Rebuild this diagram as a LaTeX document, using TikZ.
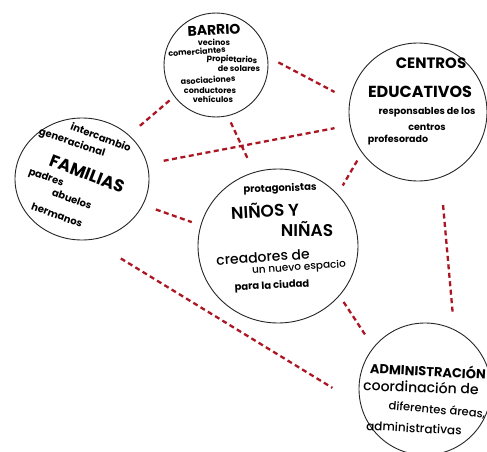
\documentclass[tikz,border=0pt]{standalone}
\usepackage{fontspec}
\setmainfont{Poppins}
\newfontfamily\medfont{Poppins Medium}
\newfontfamily\semifont{Poppins SemiBold}
\usetikzlibrary{shapes.geometric}
\definecolor{linkred}{RGB}{172,22,34}
\newcommand\myfs[1]{\fontsize{#1}{#1}\selectfont}
\begin{document}
\begin{tikzpicture}[x=1pt,y=-1pt,
  ring/.style={draw=black!85, line width=0.9pt, circle, inner sep=0pt},
  oval/.style={draw=black!85, line width=0.9pt, ellipse, inner sep=0pt},
  link/.style={draw=linkred, line width=2.3pt, dash pattern=on 5pt off 3.5pt},
  lbl/.style={inner sep=0pt, text=black},
  small/.style={lbl, font=\myfs{8}\bfseries},
  mid/.style={lbl, font=\myfs{10}\bfseries},
  big/.style={lbl, font=\myfs{15}\bfseries}]
\useasboundingbox (0,0) rectangle (487,452);
\fill[white] (0,0) rectangle (487,452);
% circles
\node[ring, minimum size=104pt] (bar) at (216,65) {};
\node[ring, minimum size=138pt] (cen) at (418,112) {};
\node[oval, minimum width=134pt, minimum height=122pt] (fam) at (82,179) {};
\node[oval, minimum width=160pt, minimum height=154pt] (nin) at (278,246) {};
\node[ring, minimum size=132pt] (adm) at (425,389) {};
% connectors
\draw[link, shorten <=12pt, shorten >=17pt] (bar.9.5) -- (cen.170);
\draw[link, shorten <=6pt, shorten >=12.5pt] (bar.-143) -- (fam.43.4);
\draw[link, shorten <=7pt, shorten >=14pt] (bar.-77.8) -- (nin.108.2);
\draw[link, shorten <=16.6pt, shorten >=15.6pt] (fam.13.9) -- (cen.-169);
\draw[link, shorten <=9pt, shorten >=10pt] (cen.-144.6) -- (nin.41.6);
\draw[link, shorten <=13.5pt, shorten >=9.3pt] (fam.-23.7) -- (nin.165.5);
\draw[link, shorten <=35.5pt, shorten >=33pt] (fam.-82.5) -- (adm.-166);
\draw[link, shorten <=7.3pt, shorten >=15.3pt] (nin.-39.3) -- (adm.141.3);
\draw[link, shorten <=27.5pt, shorten >=16.6pt] (cen.-71.9) -- (adm.64.4);
% BARRIO
\node[lbl, font=\myfs{14}\bfseries, rotate=3] (tbarrio) at (214,30) {BARRIO};
\node[small] (tvec) at (214,42) {vecinos};
\node[small, rotate=4] (tcom) at (197,51.5) {comerciantes};
\node[small, rotate=-3] (tprop) at (232,60) {propietarios};
\node[small] (tsol) at (239,68.5) {de solares};
\node[small, rotate=3] (tasoc) at (208,80) {asociaciones};
\node[small] (tcond) at (210,91) {conductores};
\node[small] (tveh) at (213,99) {vehículos};
% CENTROS
\node[big] (tcentros) at (431,63) {CENTROS};
\node[lbl, font=\myfs{16}\bfseries] (tedu) at (420,92) {EDUCATIVOS};
\node[lbl, font=\myfs{9.5}\bfseries] (tresp) at (427,112) {responsables de los};
\node[lbl, font=\myfs{9.5}\bfseries] (tcent) at (427,127) {centros};
\node[lbl, font=\myfs{9.5}\bfseries] (tprof) at (398,140) {profesorado};
% FAMILIAS
\node[mid, rotate=-21] (tinter) at (101,137) {intercambio};
\node[mid, rotate=-18] (tgen) at (72,143) {generacional};
\node[lbl, font=\myfs{17}\bfseries, rotate=-21] (tfam) at (87,174) {FAMILIAS};
\node[mid, rotate=-20] (tpad) at (46,178) {padres};
\node[mid, rotate=-20] (tabu) at (72,199) {abuelos};
\node[mid, rotate=-20] (ther) at (57,215) {hermanos};
% NIÑOS
\node[mid, rotate=2] (tprot) at (280,189) {protagonistas};
\node[lbl, font=\myfs{17}\semifont, rotate=3] (tninos) at (265,210) {NIÑOS Y};
\node[lbl, font=\myfs{17}\semifont] (tninas) at (307,229) {NIÑAS};
\node[lbl, font=\myfs{14}\medfont, rotate=4] (tcrea) at (263,257) {creadores de};
\node[lbl, font=\myfs{10.5}\medfont, rotate=4] (tnuevo) at (299,268) {un nuevo espacio};
\node[lbl, font=\myfs{10}\bfseries, rotate=3] (tpara) at (272,286) {para la ciudad};
% ADMINISTRACION
\node[lbl, font=\myfs{13}\bfseries, rotate=-3] (tadm) at (428,370) {ADMINISTRACIÓN};
\node[lbl, font=\myfs{14}\medfont, rotate=-2] (tcoord) at (421,387) {coordinación de};
\node[lbl, font=\myfs{11.5}\medfont, rotate=-5] (tdif) at (437,410) {diferentes áreas,};
\node[lbl, font=\myfs{12}\medfont, rotate=-3] (tadmv) at (414,428) {administrativas};
\end{tikzpicture}
\end{document}
